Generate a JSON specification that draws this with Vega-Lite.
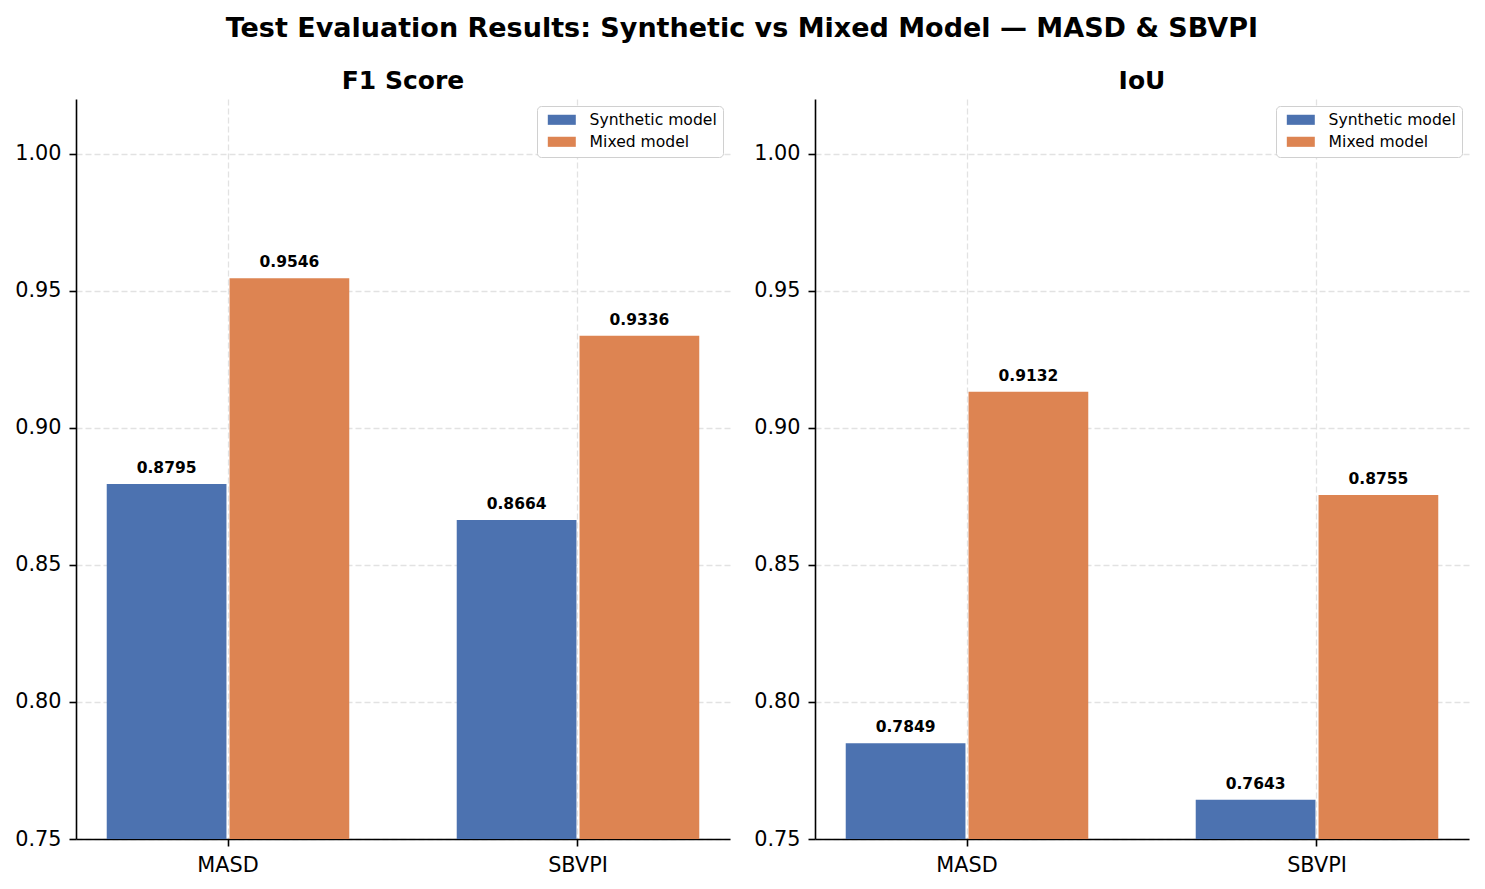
{
  "$schema": "https://vega.github.io/schema/vega-lite/v6.json",
  "background": "white",
  "padding": {"left": 14, "top": 15, "right": 10, "bottom": 5},
  "title": {
    "text": "Test Evaluation Results: Synthetic vs Mixed Model — MASD & SBVPI",
    "fontSize": 27,
    "font": "DejaVu Sans",
    "fontWeight": "bold",
    "anchor": "middle",
    "color": "black",
    "offset": 26
  },
  "data": {
    "values": [
      {"metric": "F1 Score", "dataset": "MASD", "model": "Synthetic model", "value": 0.8795},
      {"metric": "F1 Score", "dataset": "MASD", "model": "Mixed model", "value": 0.9546},
      {"metric": "F1 Score", "dataset": "SBVPI", "model": "Synthetic model", "value": 0.8664},
      {"metric": "F1 Score", "dataset": "SBVPI", "model": "Mixed model", "value": 0.9336},
      {"metric": "IoU", "dataset": "MASD", "model": "Synthetic model", "value": 0.7849},
      {"metric": "IoU", "dataset": "MASD", "model": "Mixed model", "value": 0.9132},
      {"metric": "IoU", "dataset": "SBVPI", "model": "Synthetic model", "value": 0.7643},
      {"metric": "IoU", "dataset": "SBVPI", "model": "Mixed model", "value": 0.8755}
    ]
  },
  "spacing": 23,
  "resolve": {"legend": {"color": "independent"}},
  "hconcat": [
    {
      "width": 654,
      "height": 740,
      "title": {"text": "F1 Score"},
      "transform": [{"filter": "datum.metric === 'F1 Score'"}],
      "encoding": {
        "x": {"field": "dataset", "type": "nominal", "title": null, "sort": ["MASD", "SBVPI"],
              "scale": {"paddingInner": 0.3, "paddingOuter": 0.0843}},
        "xOffset": {"field": "model", "type": "nominal", "sort": ["Synthetic model", "Mixed model"],
                    "scale": {"paddingInner": 0.025, "paddingOuter": 0.01}},
        "y": {"field": "value", "type": "quantitative", "title": null,
              "scale": {"domain": [0.75, 1.02], "zero": false, "nice": false},
              "axis": {"values": [0.75, 0.8, 0.85, 0.9, 0.95, 1.0], "format": ".2f"}}
      },
      "layer": [
        {
          "mark": {"type": "bar"},
          "encoding": {
            "y2": {"datum": 0.75},
            "color": {"field": "model", "type": "nominal", "sort": ["Synthetic model", "Mixed model"],
                      "scale": {"domain": ["Synthetic model", "Mixed model"], "range": ["#4C72B0", "#DD8452"]},
                      "legend": {"title": null}}
          }
        },
        {
          "mark": {"type": "text", "font": "DejaVu Sans", "fontWeight": "bold", "fontSize": 15.5, "baseline": "alphabetic", "dy": -11, "color": "black"},
          "encoding": {"text": {"field": "value", "type": "quantitative", "format": ".4f"}}
        }
      ]
    },
    {
      "width": 654,
      "height": 740,
      "title": {"text": "IoU"},
      "transform": [{"filter": "datum.metric === 'IoU'"}],
      "encoding": {
        "x": {"field": "dataset", "type": "nominal", "title": null, "sort": ["MASD", "SBVPI"],
              "scale": {"paddingInner": 0.3, "paddingOuter": 0.0843}},
        "xOffset": {"field": "model", "type": "nominal", "sort": ["Synthetic model", "Mixed model"],
                    "scale": {"paddingInner": 0.025, "paddingOuter": 0.01}},
        "y": {"field": "value", "type": "quantitative", "title": null,
              "scale": {"domain": [0.75, 1.02], "zero": false, "nice": false},
              "axis": {"values": [0.75, 0.8, 0.85, 0.9, 0.95, 1.0], "format": ".2f"}}
      },
      "layer": [
        {
          "mark": {"type": "bar"},
          "encoding": {
            "y2": {"datum": 0.75},
            "color": {"field": "model", "type": "nominal", "sort": ["Synthetic model", "Mixed model"],
                      "scale": {"domain": ["Synthetic model", "Mixed model"], "range": ["#4C72B0", "#DD8452"]},
                      "legend": {"title": null}}
          }
        },
        {
          "mark": {"type": "text", "font": "DejaVu Sans", "fontWeight": "bold", "fontSize": 15.5, "baseline": "alphabetic", "dy": -11, "color": "black"},
          "encoding": {"text": {"field": "value", "type": "quantitative", "format": ".4f"}}
        }
      ]
    }
  ],
  "config": {
    "view": {"stroke": null},
    "font": "DejaVu Sans",
    "title": {"fontSize": 25, "fontWeight": "bold", "font": "DejaVu Sans", "color": "black", "offset": 5},
    "axis": {
      "labelFont": "DejaVu Sans",
      "labelFontSize": 20.8,
      "labelColor": "black",
      "domainColor": "black",
      "domainWidth": 1.6,
      "tickColor": "black",
      "tickWidth": 1.6,
      "tickSize": 7,
      "grid": true,
      "gridColor": "#e2e2e2",
      "gridDash": [6, 3],
      "gridWidth": 1.3
    },
    "axisX": {"labelAngle": 0, "labelPadding": 9},
    "axisY": {"labelPadding": 8},
    "legend": {
      "orient": "top-right",
      "offset": 7,
      "padding": 6,
      "labelFont": "DejaVu Sans",
      "labelFontSize": 15.6,
      "labelColor": "black",
      "labelOffset": 20,
      "symbolOffset": 11,
      "symbolType": "M-2,-0.72L2,-0.72L2,0.72L-2,0.72Z",
      "symbolSize": 196,
      "symbolStrokeWidth": 0,
      "rowPadding": 5,
      "strokeColor": "#d0d0d0",
      "fillColor": "white",
      "cornerRadius": 4
    }
  }
}
